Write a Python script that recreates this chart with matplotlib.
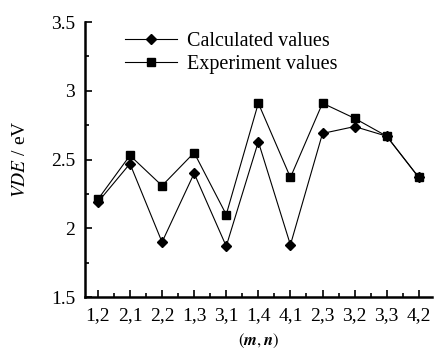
import numpy as np
import matplotlib.pyplot as plt
from matplotlib.ticker import MultipleLocator

# (m,n) categories and VDE values (eV)
labels = ['1,2', '2,1', '2,2', '1,3', '3,1', '1,4', '4,1', '2,3', '3,2', '3,3', '4,2']
calculated = [2.19, 2.47, 1.90, 2.40, 1.87, 2.63, 1.88, 2.69, 2.74, 2.67, 2.37]
experiment = [2.21, 2.53, 2.31, 2.55, 2.10, 2.91, 2.37, 2.91, 2.80, 2.67, 2.37]

plt.rcParams['font.family'] = ['Liberation Serif', 'DejaVu Serif']
plt.rcParams['mathtext.fontset'] = 'stix'

fig = plt.figure(figsize=(4.36, 3.55), dpi=100)
ax = fig.add_axes([0.195, 0.163, 0.795, 0.775])

x = np.arange(len(labels))
ax.plot(x, calculated, '-', color='black', lw=0.8, marker='D', ms=5.5,
        label='Calculated values')
ax.plot(x, experiment, '-', color='black', lw=0.8, marker='s', ms=6,
        label='Experiment values')

ax.set_xlim(-0.4, len(labels) - 0.6)
ax.set_ylim(1.5, 3.5)
ax.set_xticks(x)
ax.set_xticklabels(labels)
ax.xaxis.set_minor_locator(MultipleLocator(0.5))
ax.yaxis.set_minor_locator(MultipleLocator(0.25))
ax.set_yticks([1.5, 2, 2.5, 3, 3.5])
ax.set_yticklabels(['1.5', '2', '2.5', '3', '3.5'])

ax.tick_params(which='both', direction='in', labelsize=14, width=1.2)
ax.tick_params(which='major', length=5)
ax.tick_params(which='minor', length=3)
ax.tick_params(axis='x', pad=7)
ax.tick_params(axis='y', pad=7)

for s in ['top', 'right']:
    ax.spines[s].set_visible(False)
for s in ['left', 'bottom']:
    ax.spines[s].set_linewidth(1.8)

ax.set_ylabel(r'$VDE$ / eV', fontsize=14, labelpad=16)
ax.set_xlabel(r'$(\boldsymbol{m},\boldsymbol{n})$', fontsize=12, labelpad=6)

ax.legend(loc='upper left', bbox_to_anchor=(0.063, 1.03), frameon=False,
          fontsize=14.5, handlelength=2.6, handletextpad=0.5, labelspacing=0.2)

fig.savefig('out.png', dpi=100)
